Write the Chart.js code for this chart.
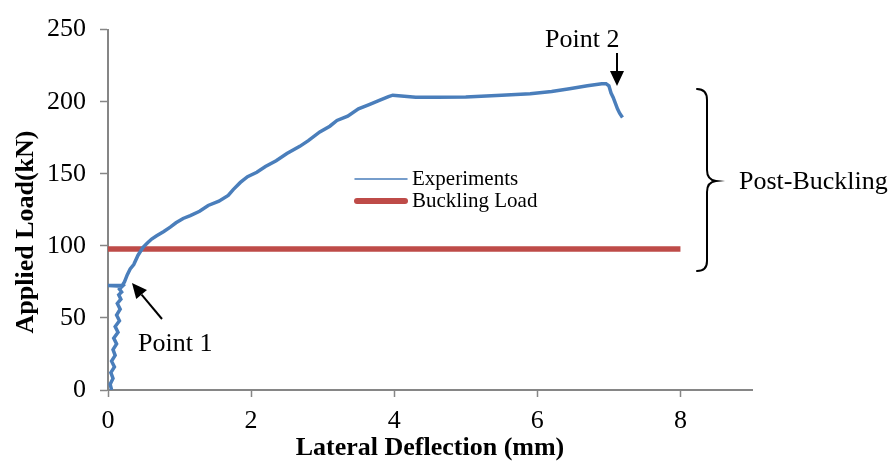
<!DOCTYPE html>
<html><head><meta charset="utf-8">
<script src="https://cdn.jsdelivr.net/npm/chart.js@4/dist/chart.umd.min.js"></script>
<style>html,body{margin:0;padding:0;background:#fff}#wrap{width:894px;height:464px}</style>
</head><body><div id="wrap"><canvas id="c" width="894" height="464"></canvas></div>
<script>
// Lateral deflection (mm) and applied load (kN)
const expDeflection = [0.05,0.03,0.07,0.04,0.09,0.05,0.1,0.07,0.12,0.08,0.14,0.1,0.16,0.12,0.17,0.13,0.18,0.15,0.19,0.16,0.2,0.0,0.2,0.23,0.27,0.31,0.36,0.42,0.49,0.55,0.61,0.68,0.78,0.87,0.95,1.05,1.15,1.28,1.4,1.55,1.68,1.75,1.85,1.95,2.08,2.2,2.35,2.5,2.68,2.8,2.96,3.1,3.2,3.35,3.5,3.65,3.8,3.92,3.98,4.1,4.3,4.6,5.0,5.5,5.9,6.2,6.45,6.7,6.9,6.96,7.0,7.03,7.06,7.09,7.12,7.15,7.19];
const expLoad = [0,4,8,12,16,20,24,28,32,36,40,44,48,52,56,60,63,66,68,70,72,72.5,72.5,75,80,84,87,93.5,99,102,104.7,107,110,113,116,119,121,124,128,131,135,139,144,148,151,155,159,164,169,173,179,183,187,190,195,198,201,203.5,204.5,204,203,203,203.3,204.5,205.5,207,209,211,212.5,212.5,211,206,203,199,195,192,189];
const bucklingDeflection = [0, 8];
const bucklingLoad = [97.8, 97.8];
const xTicks = [0, 2, 4, 6, 8];
const yTicks = [0, 50, 100, 150, 200, 250];

const FONT = "'Liberation Serif', 'Times New Roman', serif";
const BLUE = '#4A7EBB', RED = '#BE4B48', AXIS = '#868686';

const expData = expDeflection.map((x, i) => ({x, y: expLoad[i]}));
const buckData = bucklingDeflection.map((x, i) => ({x, y: bucklingLoad[i]}));

const annot = {
  id: 'annot',
  afterDraw(chart) {
    const ctx = chart.ctx;
    ctx.save();
    ctx.fillStyle = '#000'; ctx.strokeStyle = '#000';
    // y axis title
    ctx.save();
    ctx.translate(26, 232); ctx.rotate(-Math.PI / 2);
    ctx.font = 'bold 26px ' + FONT; ctx.textAlign = 'center'; ctx.textBaseline = 'middle';
    ctx.fillText('Applied Load(kN)', 0, 0);
    ctx.restore();
    // legend
    ctx.lineCap = 'round';
    ctx.strokeStyle = BLUE; ctx.lineWidth = 1.5;
    ctx.beginPath(); ctx.moveTo(355, 179); ctx.lineTo(407, 179); ctx.stroke();
    ctx.strokeStyle = RED; ctx.lineWidth = 6;
    ctx.beginPath(); ctx.moveTo(357, 201); ctx.lineTo(405, 201); ctx.stroke();
    ctx.fillStyle = '#000';
    ctx.font = '21px ' + FONT; ctx.textAlign = 'left'; ctx.textBaseline = 'middle';
    ctx.fillText(chart.data.datasets[0].label, 412, 179);
    ctx.fillText(chart.data.datasets[1].label, 412, 201);
    // annotations text
    ctx.font = '26px ' + FONT;
    ctx.fillText('Point 1', 138, 344);
    ctx.fillText('Point 2', 545, 40);
    ctx.fillText('Post-Buckling', 739, 182);
    // arrows
    function arrow(x1, y1, x2, y2) {
      const a = Math.atan2(y2 - y1, x2 - x1), L = 15, W = 7;
      const bx = x2 - L * Math.cos(a), by = y2 - L * Math.sin(a);
      ctx.strokeStyle = '#000'; ctx.lineWidth = 2; ctx.lineCap = 'butt';
      ctx.beginPath(); ctx.moveTo(x1, y1); ctx.lineTo(bx, by); ctx.stroke();
      ctx.beginPath();
      ctx.moveTo(x2, y2);
      ctx.lineTo(bx + W * Math.sin(a), by - W * Math.cos(a));
      ctx.lineTo(bx - W * Math.sin(a), by + W * Math.cos(a));
      ctx.closePath(); ctx.fill();
    }
    arrow(162, 319, 132, 283);
    arrow(617, 53, 617, 86);
    // brace
    ctx.lineWidth = 2; ctx.strokeStyle = '#000'; ctx.lineCap = 'round';
    ctx.beginPath();
    ctx.moveTo(697, 89);
    ctx.quadraticCurveTo(707, 89, 707, 100);
    ctx.lineTo(707, 170);
    ctx.quadraticCurveTo(707, 180, 716, 181);
    ctx.quadraticCurveTo(707, 182, 707, 192);
    ctx.lineTo(707, 261);
    ctx.quadraticCurveTo(707, 271, 697, 271);
    ctx.stroke();
    ctx.restore();
  }
};

new Chart(document.getElementById('c'), {
  type: 'scatter',
  data: {
    datasets: [
      {label: 'Experiments', data: expData, showLine: true, borderColor: BLUE, backgroundColor: BLUE,
       borderWidth: 3.5, pointRadius: 0, tension: 0},
      {label: 'Buckling Load', data: buckData, showLine: true, borderColor: RED, backgroundColor: RED,
       borderWidth: 5.5, pointRadius: 0, tension: 0}
    ]
  },
  options: {
    responsive: false, animation: false,
    layout: {padding: {top: 24, right: 142, left: 0, bottom: 0}},
    plugins: {legend: {display: false}, tooltip: {enabled: false}},
    scales: {
      x: {
        type: 'linear', min: 0, max: 9,
        afterBuildTicks: s => { s.ticks = xTicks.map(v => ({value: v})); },
        afterFit: s => { s.height = 74; },
        grid: {display: true, drawOnChartArea: false, drawTicks: true, tickLength: 7, color: AXIS, tickWidth: 1.5},
        border: {display: true, color: AXIS, width: 2},
        ticks: {font: {family: FONT, size: 26}, color: '#000', padding: 9, maxRotation: 0},
        title: {display: true, text: 'Lateral Deflection (mm)', font: {family: FONT, size: 26, weight: 'bold'}, color: '#000', padding: {top: 0, bottom: 0}}
      },
      y: {
        type: 'linear', min: 0, max: 250,
        afterBuildTicks: s => { s.ticks = yTicks.map(v => ({value: v})); },
        afterFit: s => { s.width = 108; },
        grid: {display: true, drawOnChartArea: false, drawTicks: true, tickLength: 8, color: AXIS, tickWidth: 1.5},
        border: {display: true, color: AXIS, width: 2},
        ticks: {font: {family: FONT, size: 26}, color: '#000', padding: 14}
      }
    }
  },
  plugins: [annot]
});
</script></body></html>
